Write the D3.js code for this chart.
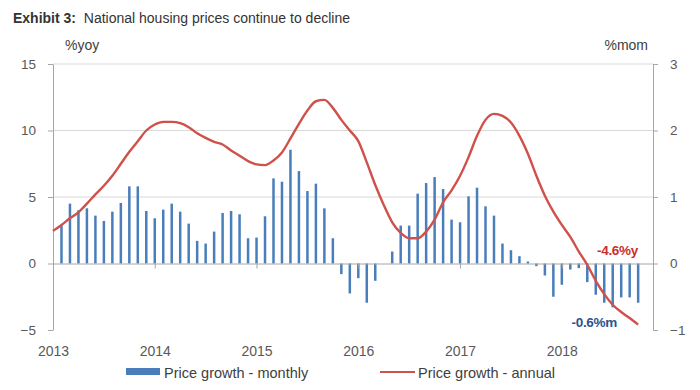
<!DOCTYPE html>
<html>
<head>
<meta charset="utf-8">
<script src="https://cdn.jsdelivr.net/npm/d3@7"></script>
<style>
  body { margin: 0; background: #fff; }
  svg { font-family: "Liberation Sans", Arial, sans-serif; }
  .axis text { fill: #595959; font-size: 13.5px; }
  .axis path, .axis line { stroke: #a6a6a6; }
</style>
</head>
<body>
<svg id="chart" width="700" height="390"></svg>
<script>
// Mois depuis janvier 2013 (0 = Jan 2013)
const yearTicks = [0, 12, 24, 36, 48, 60];
const yearLabels = ['2013', '2014', '2015', '2016', '2017', '2018'];

// Croissance mensuelle (%mom), axe de droite
const monthly = [null, 0.57, 0.90, 0.80, 0.83, 0.72, 0.64, 0.78, 0.91, 1.16, 1.16, 0.79,
  0.68, 0.81, 0.90, 0.78, 0.60, 0.34, 0.30, 0.48, 0.76, 0.79, 0.74, 0.38,
  0.39, 0.71, 1.28, 1.23, 1.71, 1.39, 1.09, 1.20, 0.83, 0.38, -0.16, -0.45,
  -0.22, -0.59, -0.26, 0.0, 0.18, 0.57, 0.57, 1.05, 1.21, 1.30, 1.12, 0.66,
  0.62, 1.01, 1.14, 0.86, 0.72, 0.30, 0.20, 0.11, 0.03, -0.04, -0.18, -0.50,
  -0.32, -0.09, -0.07, -0.28, -0.47, -0.59, -0.66, -0.51, -0.51, -0.59];

// Croissance annuelle (%yoy), axe de gauche
const annual = [2.45, 2.9, 3.4, 3.85, 4.5, 5.2, 5.85, 6.6, 7.5, 8.4, 9.2, 10.0,
  10.45, 10.65, 10.65, 10.55, 10.25, 9.8, 9.45, 9.15, 8.95, 8.5, 8.1, 7.7,
  7.45, 7.4, 7.75, 8.35, 9.4, 10.5, 11.5, 12.2, 12.3, 11.7, 10.8, 10.0,
  9.2, 7.6, 5.9, 4.4, 3.1, 2.3, 1.9, 1.9, 2.4, 3.3, 4.6, 5.5,
  6.6, 8.0, 9.6, 10.8, 11.25, 11.1, 10.6, 9.6, 8.25, 6.6, 5.1, 3.9,
  2.9, 2.0, 0.9, -0.1, -1.3, -2.3, -3.1, -3.65, -4.1, -4.6];

const leftTicks = [-5, 0, 5, 10, 15];
const rightTicks = [-1, 0, 1, 2, 3];

const svg = d3.select('#chart');
const blue = '#4a7ebb';
const red = '#d0504b';

const x = d3.scaleLinear().domain([0, 70.75]).range([53, 653]);
const yL = d3.scaleLinear().domain([-5, 15]).range([330, 64]);
const yR = d3.scaleLinear().domain([-1, 3]).range([330, 64]);

// --- Titre ---
const title = svg.append('text').attr('x', 13).attr('y', 23)
  .attr('fill', '#333').style('font-size', '14px');
title.append('tspan').attr('font-weight', 'bold').text('Exhibit 3:');
title.append('tspan').text('\u00a0 National housing prices continue to decline');

// --- Grille ---
svg.append('g').selectAll('line')
  .data([5, 10, 15])
  .join('line')
  .attr('x1', x.range()[0]).attr('x2', x.range()[1])
  .attr('y1', d => yL(d)).attr('y2', d => yL(d))
  .attr('stroke', '#d9d9d9').attr('stroke-width', 1);

// --- Axes verticaux ---
svg.append('g').attr('class', 'axis')
  .attr('transform', `translate(${x.range()[0]},0)`)
  .call(d3.axisLeft(yL).tickValues(leftTicks).tickSize(5).tickPadding(12).tickSizeOuter(0));

svg.append('g').attr('class', 'axis')
  .attr('transform', `translate(${x.range()[1]},0)`)
  .call(d3.axisRight(yR).tickValues(rightTicks).tickSize(5).tickPadding(12)
    .tickSizeOuter(0).tickFormat(d3.format('d')));

svg.append('text').attr('x', 65).attr('y', 50).attr('fill', '#404040')
  .style('font-size', '14px').text('%yoy');
svg.append('text').attr('x', 648).attr('y', 50).attr('fill', '#404040')
  .attr('text-anchor', 'end').style('font-size', '14px').text('%mom');

// --- Barres mensuelles ---
svg.append('g').selectAll('rect')
  .data(monthly.map((v, i) => ({ i, v })).filter(d => d.v !== null && d.v !== 0))
  .join('rect')
  .attr('x', d => x(d.i) - 1.25)
  .attr('width', 2.5)
  .attr('y', d => Math.min(yR(d.v), yR(0)))
  .attr('height', d => Math.abs(yR(d.v) - yR(0)))
  .attr('fill', blue);

// --- Axe horizontal (zéro) ---
svg.append('g').attr('class', 'axis')
  .attr('transform', `translate(0,${yL(0)})`)
  .call(d3.axisBottom(x).tickValues(yearTicks).tickSize(5).tickSizeOuter(0).tickFormat(''));

svg.append('g').attr('class', 'axis')
  .attr('transform', `translate(0,${yL(-5)})`)
  .call(d3.axisBottom(x).tickValues(yearTicks).tickSize(0).tickPadding(16)
    .tickFormat((d, i) => yearLabels[i]))
  .call(g => g.select('.domain').remove())
  .call(g => g.selectAll('text').style('font-size', '14px'));

// --- Courbe annuelle ---
const line = d3.line()
  .x((d, i) => x(i))
  .y(d => yL(d))
  .curve(d3.curveMonotoneX);

svg.append('path')
  .datum(annual)
  .attr('d', line)
  .attr('fill', 'none')
  .attr('stroke', red)
  .attr('stroke-width', 2.4)
  .attr('stroke-linejoin', 'round');

// --- Annotations ---
svg.append('text').attr('x', 638).attr('y', 255).attr('text-anchor', 'end')
  .attr('fill', '#c8302c').attr('font-weight', 'bold').style('font-size', '13.5px')
  .style('letter-spacing', '-0.3px').text('-4.6%y');
svg.append('text').attr('x', 617).attr('y', 327).attr('text-anchor', 'end')
  .attr('fill', '#2c5590').attr('font-weight', 'bold').style('font-size', '13.5px')
  .style('letter-spacing', '-0.3px').text('-0.6%m');

// --- Légende ---
const legend = svg.append('g').style('font-size', '14.5px').attr('fill', '#404040');
legend.append('rect').attr('x', 126).attr('y', 368).attr('width', 34).attr('height', 7).attr('fill', blue);
legend.append('text').attr('x', 164).attr('y', 378).text('Price growth - monthly');
legend.append('line').attr('x1', 380).attr('x2', 415).attr('y1', 372).attr('y2', 372)
  .attr('stroke', red).attr('stroke-width', 2);
legend.append('text').attr('x', 418).attr('y', 378).text('Price growth - annual');
</script>
</body>
</html>
